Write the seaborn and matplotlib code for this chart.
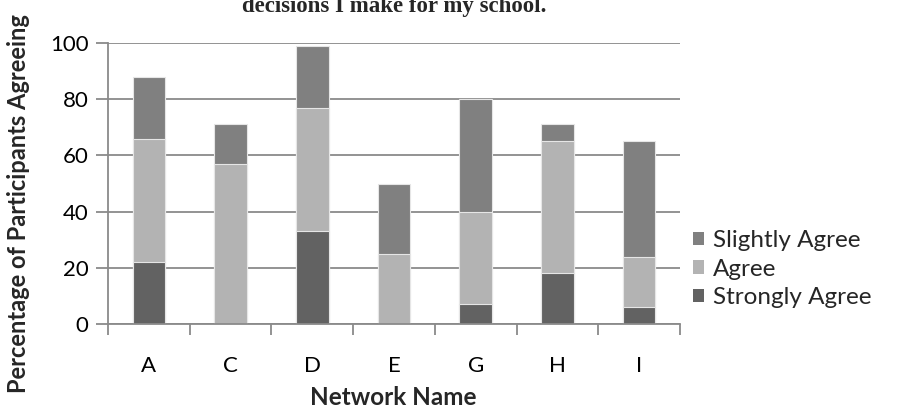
import matplotlib
matplotlib.use("Agg")
import matplotlib.pyplot as plt
import seaborn as sns
import pandas as pd
import numpy as np

networks = ["A", "C", "D", "E", "G", "H", "I"]
strongly_agree = [22, 0, 33, 0, 7, 18, 6]
agree = [44, 57, 44, 25, 33, 47, 18]
slightly_agree = [22, 14, 22, 25, 40, 6, 41]

series_names = ["Slightly Agree", "Agree", "Strongly Agree"]
series_colors = ["#808080", "#b3b3b3", "#626262"]

sns.set_theme(style="white")
plt.rcParams["font.family"] = ["Lato", "DejaVu Sans"]

df = pd.DataFrame({
    "network": networks,
    "Strongly Agree": strongly_agree,
    "Agree": agree,
    "Slightly Agree": slightly_agree,
})
# cumulative heights for stacking (overlay from tallest to shortest)
df["top_strong"] = df["Strongly Agree"]
df["top_agree"] = df["top_strong"] + df["Agree"]
df["top_slight"] = df["top_agree"] + df["Slightly Agree"]

fig = plt.figure(figsize=(9.03, 4.12), dpi=100)
ax = fig.add_axes([0.1196, 0.2136, 0.6334, 0.682])

grid_col = "#8a8a8a"
ax.set_axisbelow(True)
ax.yaxis.grid(True, color=grid_col, linewidth=1.3)

for col, name, color in zip(["top_slight", "top_agree", "top_strong"], series_names, series_colors):
    sns.barplot(data=df, x="network", y=col, color=color, width=0.4,
                edgecolor="#e6e6e6", linewidth=0.8, label=name, ax=ax,
                saturation=1)

ax.set_xlim(-0.5, len(networks) - 0.5)
ax.set_ylim(0, 100)
ax.set_yticks(np.arange(0, 101, 20))
ax.tick_params(axis="y", labelsize=16, length=9, width=1.3, color=grid_col,
               left=True, pad=5, labelcolor="black")
ax.set_xticks(range(len(networks)))
ax.set_xticklabels(networks)
ax.tick_params(axis="x", which="major", length=0, labelsize=16, pad=23,
               labelcolor="black")
ax.set_xticks(np.arange(-0.5, len(networks), 1), minor=True)
ax.tick_params(axis="x", which="minor", length=8, width=1.3, color=grid_col,
               bottom=True)

for side in ["top", "right"]:
    ax.spines[side].set_visible(False)
for side in ["left", "bottom"]:
    ax.spines[side].set_color(grid_col)
    ax.spines[side].set_linewidth(1.3)

ax.set_xlabel("")
ax.set_ylabel("")
fig.text(0.436, 0.035, "Network Name", ha="center", va="center",
         fontsize=17.5, fontweight="bold")
fig.text(0.021, 0.505, "Percentage of Participants Agreeing", ha="center",
         va="center", rotation=90, fontsize=17, fontweight="bold")
fig.text(0.437, 0.985, "decisions I make for my school.", ha="center",
         va="center", fontsize=16.5, fontweight="bold",
         family=["Liberation Serif", "DejaVu Serif"])

leg = ax.legend(loc="center left", bbox_to_anchor=(1.0227, 0.195),
                frameon=False, fontsize=17.5, handlelength=0.46,
                handleheight=0.46, handletextpad=0.38, labelspacing=0.3,
                borderaxespad=0.0, borderpad=0.0)
for h in leg.legend_handles:
    h.set_edgecolor("none")

fig.savefig("out.png", dpi=100)
